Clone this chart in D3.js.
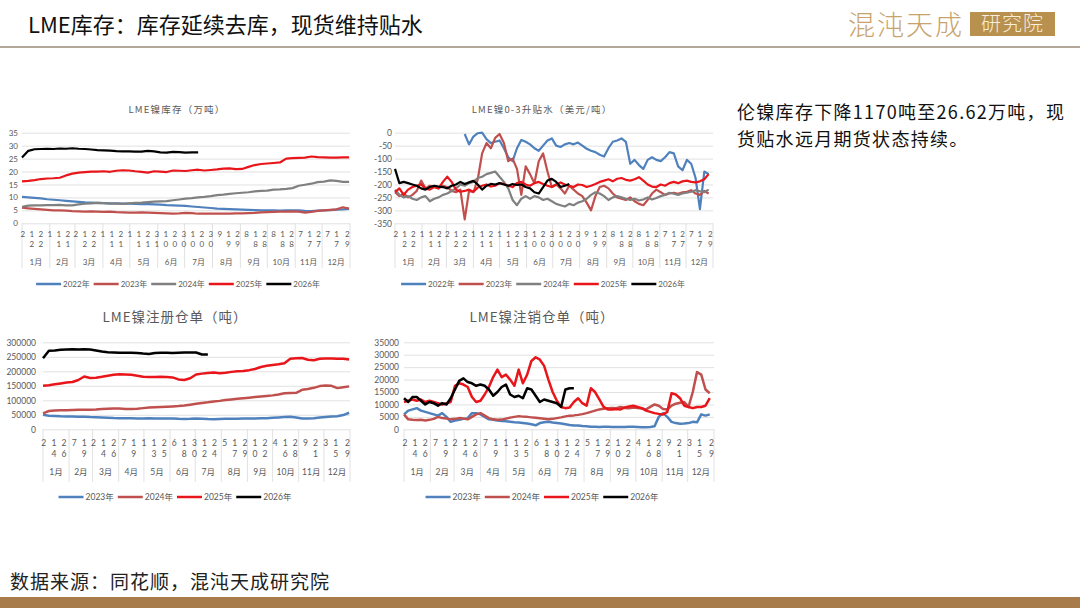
<!DOCTYPE html>
<html>
<head>
<meta charset="utf-8">
<script src="https://cdnjs.cloudflare.com/ajax/libs/d3/7.8.5/d3.min.js"></script>
<style>
  html, body { margin: 0; padding: 0; background: #fff; }
  svg { display: block; }
  text { font-family: "Noto Sans CJK SC", "Noto Sans", sans-serif; }
  .num text, text.num { font-family: Lato, "Noto Sans CJK SC", sans-serif; fill: #595959; }
</style>
</head>
<body>
<div id="graph"></div>
<script>
// ---- data ----
const monthLabels = ["1月", "2月", "3月", "4月", "5月", "6月", "7月", "8月", "9月", "10月", "11月", "12月"];
// day labels under each month (top charts / bottom charts)
const dayTicksTop = [[2, 12, 22], [1, 11, 21], [2, 12, 22], [1, 11, 21], [1, 11, 21, 31], [10, 20, 30],
  [10, 20, 30], [9, 19, 29], [8, 18, 28], [8, 18, 28], [7, 17, 27], [7, 17, 29]];
const dayTicksBottom = [[2, 14, 26], [7, 19], [2, 14, 26], [7, 19], [1, 13, 25], [6, 18, 30],
  [12, 24], [5, 17, 29], [10, 22], [4, 16, 28], [9, 21], [3, 15, 29]];

const yearNames5 = ["2022年", "2023年", "2024年", "2025年", "2026年"];
const yearNames4 = ["2023年", "2024年", "2025年", "2026年"];

// LME nickel stocks, 10k t, one value every 7 days
const inv2022 = [10.2, 10.0, 9.8, 9.6, 9.3, 9.1, 8.9, 8.7, 8.5, 8.3, 8.1, 8.0, 7.9, 7.8, 7.7, 7.7, 7.6, 7.6, 7.5, 7.4,
  7.4, 7.3, 7.2, 7.0, 6.9, 6.8, 6.7, 6.5, 6.3, 6.1, 5.9, 5.7, 5.6, 5.5, 5.4, 5.3, 5.2, 5.1, 5.0, 5.0,
  5.0, 4.9, 5.0, 5.0, 5.0, 4.8, 4.7, 4.9, 5.0, 5.1, 5.3, 5.4, 5.6];
const inv2023 = [6.0, 5.8, 5.6, 5.4, 5.2, 5.0, 5.0, 4.9, 4.7, 4.6, 4.5, 4.6, 4.5, 4.4, 4.5, 4.3, 4.2, 4.1, 4.1, 4.2,
  4.1, 4.0, 3.9, 3.8, 3.7, 3.8, 4.0, 3.9, 3.7, 3.7, 3.7, 3.7, 3.7, 3.7, 3.8, 3.8, 3.9, 4.0, 4.2, 4.3,
  4.4, 4.5, 4.5, 4.6, 4.5, 4.1, 4.4, 4.8, 5.0, 5.2, 5.4, 6.2, 5.7];
const inv2024 = [6.4, 6.8, 6.9, 6.9, 7.0, 7.0, 7.1, 6.9, 6.9, 7.3, 7.6, 7.7, 7.9, 7.8, 7.6, 7.6, 7.5, 7.7, 7.9, 8.0,
  8.2, 8.4, 8.5, 8.6, 8.9, 9.2, 9.5, 9.7, 10.0, 10.2, 10.5, 10.9, 11.1, 11.4, 11.6, 11.8, 12.0, 12.3, 12.5, 12.6,
  13.0, 13.1, 13.3, 13.6, 14.5, 14.9, 15.3, 15.9, 16.1, 16.6, 16.4, 16.0, 16.0];
const inv2025 = [16.2, 16.4, 16.7, 17.1, 17.3, 17.4, 17.6, 18.5, 19.2, 19.6, 19.8, 20.0, 20.0, 20.1, 19.9, 20.3, 20.5, 20.4, 20.1, 19.9,
  19.6, 20.1, 20.0, 19.8, 20.4, 20.3, 20.2, 20.5, 20.7, 20.4, 20.6, 20.8, 21.1, 21.2, 20.9, 21.0, 21.8, 22.5, 22.9, 23.1,
  23.3, 23.5, 25.0, 25.2, 25.3, 25.4, 25.8, 25.6, 25.5, 25.4, 25.4, 25.5, 25.5];
const inv2026 = [25.4, 28.0, 28.6, 28.7, 28.8, 28.7, 28.9, 28.8, 29.0, 28.8, 28.7, 28.5, 28.3, 28.2, 28.1, 27.9, 27.8, 27.8, 27.7, 27.7,
  28.0, 27.8, 27.4, 27.3, 27.6, 27.5, 27.3, 27.4, 27.4];

// LME nickel 0-3 spread, USD/t, one value every 5 days
const sp2022 = [null, null, null, null, null, null, null, null, null, null, null, null, null, null, null, null,
  -5, -45, -15, -2, 0, -25, -40, -35, -30, -60, -95, -110, -60, -28, -35, -45, -60, -70, -50, -30,
  -22, -50, -55, -45, -40, -45, -38, -50, -62, -70, -75, -85, -92, -60, -35, -30, -22, -35, -120, -105,
  -125, -140, -105, -95, -105, -110, -95, -75, -80, -130, -145, -105, -120, -175, -295, -150, -160];
const sp2023 = [-230, -245, -235, -250, -240, -225, -185, -215, -205, -210, -215, -205, -210, -225, -230, -220, -335, -225, -230, -180,
  -80, -40, -60, -20, -5, -40, -110, -100, -140, -240, -130, -160, -195, -110, -80, -150, -210, -200, -215, -235,
  -205, -220, -235, -245, -270, -300, -245, -210, -205, -215, -235, -250, -255, -260, -250, -265, -275, -280, -260, -235,
  -220, -230, -240, -235, -232, -236, -230, -228, -222, -235, -240, -225, -235];
const sp2024 = [-220, -240, -250, -245, -255, -260, -250, -245, -265, -255, -250, -240, -235, -225, -215, -200, -205, -195, -190, -175,
  -170, -160, -155, -150, -170, -190, -215, -260, -280, -255, -245, -255, -245, -250, -260, -255, -265, -275, -280, -285,
  -275, -280, -270, -265, -255, -240, -230, -235, -245, -260, -250, -245, -250, -255, -260, -255, -262, -258, -250, -258,
  -252, -245, -240, -232, -236, -240, -235, -232, -228, -222, -226, -230, -220];
const sp2025 = [-230, -215, -240, -220, -210, -205, -200, -215, -220, -210, -215, -190, -170, -190, -220, -228, -225, -220, -228, -212,
  -205, -200, -208, -205, -195, -198, -205, -210, -195, -190, -200, -205, -195, -190, -198, -205, -210, -200, -192, -200,
  -205, -210, -200, -202, -210, -205, -198, -190, -185, -180, -188, -178, -175, -182, -185, -180, -172, -185, -200, -208,
  -210, -200, -205, -195, -190, -195, -188, -185, -190, -192, -188, -180, -160];
const sp2026 = [-140, -195, -190, -195, -200, -205, -215, -220, -210, -205, -208, -210, -215, -205, -200, -190, -198, -192, -186, -200,
  -220, -205, -198, -200, -195, -200, -205, -198, -202, -200, -210, -215, -230, -235, -210, -185, -178, -190, -210, -205, -198];

// LME nickel registered warrants, t, one value every 7 days
const wr2023 = [50000, 47000, 46000, 45000, 44500, 44000, 43500, 43000, 42000, 41500, 41000, 40000, 39000, 38500, 38000, 38000, 37500, 37500, 37800, 37500,
  37500, 37000, 37200, 36000, 35500, 36000, 37500, 36500, 35500, 35000, 35500, 36000, 36000, 36500, 37000, 37000, 37500, 38000, 38500, 40000,
  41000, 42000, 43000, 41000, 37000, 37000, 38500, 41000, 42500, 44000, 45000, 49000, 57000];
const wr2024 = [55000, 63000, 65000, 65500, 66000, 66500, 67000, 67000, 67500, 68000, 70000, 71000, 72000, 71500, 70000, 70000, 71000, 73000, 75000, 76000,
  77000, 78000, 79000, 80000, 82000, 85000, 88000, 91000, 93000, 96000, 98000, 101000, 103000, 105000, 107000, 109000, 111000, 113000, 115000, 117000,
  120000, 124000, 125000, 126000, 136000, 139000, 143000, 149000, 151000, 150000, 142000, 145000, 148000];
const wr2025 = [150000, 152000, 155000, 158000, 161000, 163000, 170000, 182000, 177000, 178000, 181000, 185000, 188000, 190000, 189000, 188000, 185000, 181000, 180000, 180000,
  181000, 180000, 179000, 172000, 170000, 176000, 189000, 192000, 194000, 196000, 193000, 195000, 198000, 200000, 201000, 204000, 208000, 215000, 219000, 222000,
  224000, 228000, 243000, 245000, 246000, 240000, 238000, 243000, 244000, 244000, 243000, 243000, 241000];
const wr2026 = [245000, 271000, 272000, 274000, 275000, 276000, 275000, 276000, 275000, 272000, 268000, 266000, 265000, 264000, 264000, 264000, 263000, 261000, 260000, 263000,
  264000, 264000, 263000, 264000, 265000, 265000, 265000, 258000, 258000];

// LME nickel cancelled warrants, t, one value every 5 days
const cx2023 = [6000, 7500, 8000, 8500, 7500, 7000, 6500, 6000, 5500, 6500, 5000, 3000, 3500, 3800, 4200, 4500, 6500, 6500, 6000, 5000,
  4000, 3800, 3500, 3300, 3200, 3000, 2800, 2700, 2500, 2300, 2000, 1600, 2500, 2800, 3000, 2700, 2500, 2300, 2000, 1700,
  1500, 1500, 1300, 1200, 1000, 1000, 950, 1000, 1000, 900, 950, 900, 900, 1000, 1000, 900, 800, 800, 900, 1200,
  5000, 6500, 5000, 3000, 2500, 2200, 2300, 2500, 3000, 2800, 6000, 5500, 6000];
const cx2024 = [6000, 4000, 3800, 3700, 3800, 3500, 3800, 4200, 5000, 4500, 4300, 4000, 4200, 4500, 4300, 4000, 5000, 6000, 6500, 5500,
  4500, 4000, 3800, 3900, 4300, 4700, 5000, 5300, 5100, 5000, 4800, 4600, 4400, 4200, 4000, 4200, 4500, 4800, 5200, 5500,
  5600, 5800, 6100, 6500, 7000, 7500, 8000, 8300, 8500, 8600, 8500, 9000, 8600, 8500, 8800, 8600, 8400, 8000, 9000, 10000,
  9500, 8200, 8000, 9500, 10300, 10700, 11000, 9000, 15000, 23000, 22000, 16000, 14500];
const cx2025 = [11000, 11500, 12000, 11500, 12000, 11000, 11500, 11000, 10500, 10000, 10500, 11000, 17500, 18500, 18000, 17000, 13000, 11000, 11500, 14000,
  17000, 21000, 24000, 21000, 22000, 20000, 17500, 24000, 18500, 22000, 27500, 29000, 28000, 25500, 20000, 15000, 11500, 9000, 8500, 8800,
  11000, 12500, 10500, 9500, 16500, 15000, 12000, 9000, 8000, 8000, 8200, 8000, 8800, 9200, 9500, 9000, 8500, 7500, 7000, 6500,
  6200, 6000, 7000, 14500, 14000, 12500, 9500, 9000, 8500, 9000, 9000, 9500, 12500];
const cx2026 = [12500, 11000, 13000, 13000, 11500, 10000, 11000, 10500, 9500, 10500, 10000, 12500, 16000, 19500, 20500, 19000, 18500, 17500, 18000, 17500,
  16000, 13500, 15000, 17000, 18000, 14000, 13000, 13500, 12500, 16500, 16000, 13500, 11000, 12000, 11500, 11000, 10500, 9000, 16000, 16500, 16500];

const colors5 = ["#4f81bd", "#c0504d", "#808080", "#e8161b", "#000000"];
const colors4 = ["#4f81bd", "#c0504d", "#e8161b", "#000000"];

// ---- page ----
const yearStart = new Date(2025, 0, 1);
const yearEnd = new Date(2026, 0, 1);

const svg = d3.select("#graph").append("svg").attr("width", 1080).attr("height", 608);

// header
svg.append("text").attr("x", 28).attr("y", 25).attr("dy", "0.36em")
  .attr("font-size", 22).attr("fill", "#111").text("LME库存：库存延续去库，现货维持贴水");
svg.append("line").attr("x1", 0).attr("x2", 1080).attr("y1", 47).attr("y2", 47)
  .attr("stroke", "#b3a799").attr("stroke-width", 2);
svg.append("text").attr("x", 848).attr("y", 25).attr("dy", "0.36em")
  .attr("font-size", 27).attr("font-weight", 300).attr("letter-spacing", 2).attr("fill", "#c8a46c").text("混沌天成");
svg.append("rect").attr("x", 970).attr("y", 12).attr("width", 85).attr("height", 24).attr("fill", "#b8914f");
svg.append("text").attr("x", 1012.5).attr("y", 24).attr("dy", "0.36em").attr("text-anchor", "middle")
  .attr("font-size", 20).attr("font-weight", 300).attr("letter-spacing", 1).attr("fill", "#f7eedc").text("研究院");

// comment on the right
svg.append("text").attr("x", 737).attr("y", 113).attr("dy", "0.36em").attr("font-size", 18)
  .attr("letter-spacing", 1.3).attr("fill", "#111").text("伦镍库存下降1170吨至26.62万吨，现");
svg.append("text").attr("x", 737).attr("y", 140).attr("dy", "0.36em").attr("font-size", 18)
  .attr("letter-spacing", 1.3).attr("fill", "#111").text("货贴水远月期货状态持续。");

// footer
svg.append("text").attr("x", 10).attr("y", 582).attr("dy", "0.36em").attr("font-size", 19)
  .attr("letter-spacing", 1).attr("fill", "#222").text("数据来源：同花顺，混沌天成研究院");
svg.append("rect").attr("x", 0).attr("y", 597).attr("width", 1080).attr("height", 11).attr("fill", "#a87b4b");

function addLegend(items, cx, cy, fontSize) {
  const g = svg.append("g");
  let pos = 0;
  items.forEach(s => {
    g.append("line").attr("x1", pos).attr("x2", pos + 25).attr("y1", 0).attr("y2", 0)
      .attr("stroke", s.color).attr("stroke-width", 2.5);
    const t = g.append("text").attr("class", "num").attr("x", pos + 27).attr("y", 0).attr("dy", "0.35em")
      .attr("font-size", fontSize).text(s.name);
    pos += 27 + t.node().getComputedTextLength() + 4;
  });
  g.attr("transform", "translate(" + (cx - pos / 2) + "," + cy + ")");
}

function drawPanel(cfg) {
  const g = svg.append("g");
  const x = d3.scaleTime().domain([yearStart, yearEnd]).range([cfg.x0, cfg.x1]);
  const y = d3.scaleLinear().domain(cfg.domain).range([cfg.yBot, cfg.yTop]);

  // title
  g.append("text").attr("x", cfg.titleX).attr("y", cfg.titleY).attr("dy", "0.36em")
    .attr("text-anchor", "middle").attr("font-size", cfg.titleSize).attr("letter-spacing", cfg.titleSpacing)
    .attr("fill", "#595959").text(cfg.title);

  // gridlines and value labels (plain integers, ascii minus like the source)
  g.append("g").attr("class", "num")
    .attr("transform", "translate(" + cfg.x0 + ",0)")
    .call(d3.axisLeft(y).tickValues(cfg.ticks).tickFormat(d => String(d))
      .tickSize(-(cfg.x1 - cfg.x0)).tickPadding(cfg.x0 - cfg.labelRight))
    .call(a => a.select(".domain").remove())
    .call(a => a.selectAll("line").attr("stroke", "#d9d9d9").attr("stroke-width", 0.8))
    .call(a => a.selectAll("text").attr("font-size", cfg.yFontSize));

  // two-level category axis: month cells with day labels
  const months = d3.timeMonth.range(yearStart, yearEnd);
  const bounds = months.concat([yearEnd]);
  g.append("g").selectAll("line").data(bounds).join("line")
    .attr("x1", d => x(d)).attr("x2", d => x(d))
    .attr("y1", cfg.yBot).attr("y2", cfg.divBottom)
    .attr("stroke", "#d9d9d9").attr("stroke-width", 0.8);
  g.append("g").selectAll("text").data(months).join("text")
    .attr("class", "num")
    .attr("x", (d, i) => (x(d) + x(bounds[i + 1])) / 2).attr("y", cfg.monthY).attr("dy", "0.36em")
    .attr("text-anchor", "middle").attr("font-size", cfg.fontSize)
    .text((d, i) => monthLabels[i]);

  const digits = [];
  cfg.dayTicks.forEach((days, m) => days.forEach(day => {
    const dt = new Date(2025, m, day);
    String(day).split("").forEach((ch, k) => digits.push({ dt: dt, ch: ch, row: k }));
  }));
  g.append("g").selectAll("text").data(digits).join("text")
    .attr("class", "num")
    .attr("x", d => x(d.dt)).attr("y", d => cfg.rowY[d.row]).attr("dy", "0.36em")
    .attr("text-anchor", "middle").attr("font-size", cfg.fontSize)
    .text(d => d.ch);

  // series lines
  cfg.series.forEach(s => {
    const line = d3.line()
      .defined(v => v != null)
      .x((v, i) => x(d3.timeDay.offset(yearStart, i * cfg.step)))
      .y(v => y(v));
    g.append("path").datum(s.values).attr("d", line)
      .attr("fill", "none").attr("stroke", s.color).attr("stroke-width", cfg.lineWidth)
      .attr("stroke-linejoin", "round");
  });

  addLegend(cfg.series, cfg.legendX, cfg.legendY, cfg.fontSize);
}

const topRows = { rowY: [234, 244], monthY: 262, divBottom: 268, yTop: 132.7, yBot: 223.3, titleY: 110, legendY: 284, titleSize: 9.5, titleSpacing: 1.2, fontSize: 8 };
const botRows = { rowY: [443, 454], monthY: 472, divBottom: 482, yTop: 342.3, yBot: 429.3, titleY: 317, legendY: 497, titleSize: 13.5, titleSpacing: 1, fontSize: 8.5, yFontSize: 8.5 };

drawPanel(Object.assign({}, topRows, {
  x0: 22, x1: 350, labelRight: 18, titleX: 177, legendX: 180, yFontSize: 8,
  title: "LME镍库存（万吨）", domain: [0, 35], ticks: d3.range(0, 36, 5),
  dayTicks: dayTicksTop, step: 7, lineWidth: 2.2,
  series: [inv2022, inv2023, inv2024, inv2025, inv2026].map((v, i) => ({ name: yearNames5[i], color: colors5[i], values: v }))
}));

drawPanel(Object.assign({}, topRows, {
  x0: 395, x1: 713, labelRight: 392, titleX: 542, legendX: 545, yFontSize: 8.5,
  title: "LME镍0-3升贴水（美元/吨）", domain: [-350, 0], ticks: d3.range(-350, 1, 50),
  dayTicks: dayTicksTop, step: 5, lineWidth: 2.2,
  series: [sp2022, sp2023, sp2024, sp2025, sp2026].map((v, i) => ({ name: yearNames5[i], color: colors5[i], values: v }))
}));

drawPanel(Object.assign({}, botRows, {
  x0: 43, x1: 350, labelRight: 36, titleX: 175, legendX: 177,
  title: "LME镍注册仓单（吨）", domain: [0, 300000], ticks: d3.range(0, 300001, 50000),
  dayTicks: dayTicksBottom, step: 7, lineWidth: 2.5,
  series: [wr2023, wr2024, wr2025, wr2026].map((v, i) => ({ name: yearNames4[i], color: colors4[i], values: v }))
}));

drawPanel(Object.assign({}, botRows, {
  x0: 404, x1: 714, labelRight: 399, titleX: 542, legendX: 544,
  title: "LME镍注销仓单（吨）", domain: [0, 35000], ticks: d3.range(0, 35001, 5000),
  dayTicks: dayTicksBottom, step: 5, lineWidth: 2.5,
  series: [cx2023, cx2024, cx2025, cx2026].map((v, i) => ({ name: yearNames4[i], color: colors4[i], values: v }))
}));
</script>
</body>
</html>
